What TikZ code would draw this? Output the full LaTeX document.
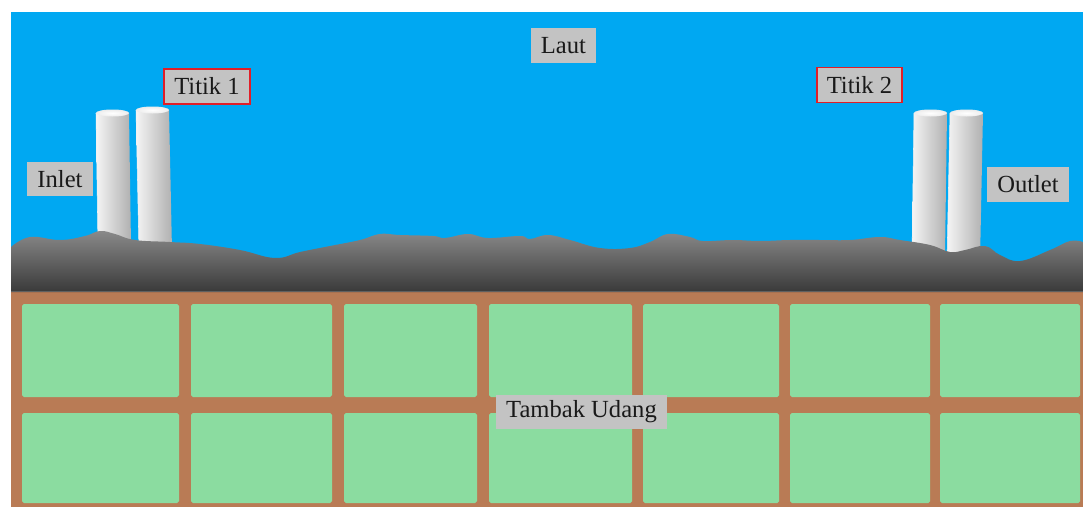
\documentclass[tikz,border=0pt]{standalone}
\usepackage{fontspec}
\setmainfont{Liberation Serif}
\usepackage{tikz}
\usetikzlibrary{positioning}
\usepackage{xcolor}

\definecolor{sea}{RGB}{0,168,242}
\definecolor{dike}{RGB}{185,123,85}
\definecolor{pond}{RGB}{139,220,160}
\definecolor{tag}{RGB}{195,195,195}
\definecolor{mark}{RGB}{225,30,40}

% one pipe: top-left x, top y, bottom-left x, bottom y (width 33)
\newcommand{\pipe}[4]{%
  \shade[left color=white!92!gray, right color=gray!62!white]
    (#1,#2) -- (#3,#4) -- ({#3+33},#4) -- ({#1+33},#2) -- cycle;
  \draw[white!88!gray, line width=0.3pt] (#1,#2) -- (#3,#4);
  \shade[inner color=white, outer color=white!85!gray]
    ({#1+16.5},#2) ellipse (16.5 and 3.5);
}

\begin{document}
\begin{tikzpicture}[x=0.02cm, y=-0.02cm,
    every node/.style={font=\fontsize{14}{16}\selectfont, text=black!90},
    lbl/.style={fill=tag, inner xsep=0.2cm, inner ysep=0pt, minimum height=0.7cm},
    titik/.style={lbl, draw=mark, line width=1.1pt}]
        \useasboundingbox (0,0) rectangle (1083,507);

        % Sea and pond area
        \fill[sea] (11,12) rectangle (1083,292);
        \fill[dike] (11,291) rectangle (1083,507);

        % Pipes (drawn before the seabed so it hides their feet)
        \pipe{96}{113}{98}{245}
        \pipe{136}{110}{139}{250}
        \pipe{914}{113}{912}{255}
        \pipe{950}{113}{947}{262}

        % Seabed
        \shade[top color=gray!92!white, bottom color=black!55!gray]
          (11,292) -- plot[smooth, tension=0.7] coordinates {
            (11,247) (30,237) (60,240) (85,236) (100,231) (115,234) (135,240)
            (170,242) (200,244) (240,250) (275,258) (300,252) (330,246)
            (360,240) (380,234) (400,235) (433,236) (445,238) (468,234)
            (488,238) (520,236) (530,239) (548,235) (570,240) (600,248)
            (630,248) (650,242) (668,234) (690,237) (703,241) (733,240)
            (760,241) (790,240) (820,240) (850,240) (880,237) (900,240)
            (930,245) (950,252) (965,250) (985,246) (1000,255) (1020,261)
            (1050,250) (1070,241) (1083,242)}
          -- (1083,292) -- cycle;
        \draw[gray!75!black, line width=0.6pt] (11,291.5) -- (1083,291.5);

        % Pond cells, two rows of seven
        \foreach \xa/\xb in {22/179,191/332,344/477,489/632,643/779,790/930,940/1080} {
            \foreach \ya/\yb in {304/397,413/503} {
                \fill[pond, rounded corners=1pt] (\xa,\ya) rectangle (\xb,\yb);
            }
        }

        % Labels
        \node[lbl] (laut) at (563.5,45.5) {Laut};
        \node[titik] (t1) at (207,86.5) {Titik 1};
        \node[titik] (t2) at (859.5,85) {Titik 2};
        \node[lbl] (inlet) at (60,179) {Inlet};
        \node[lbl] (outlet) at (1028,184.5) {Outlet};
        \node[lbl] (tambak) at (581.5,412) {Tambak Udang};
    \end{tikzpicture}
\end{document}
